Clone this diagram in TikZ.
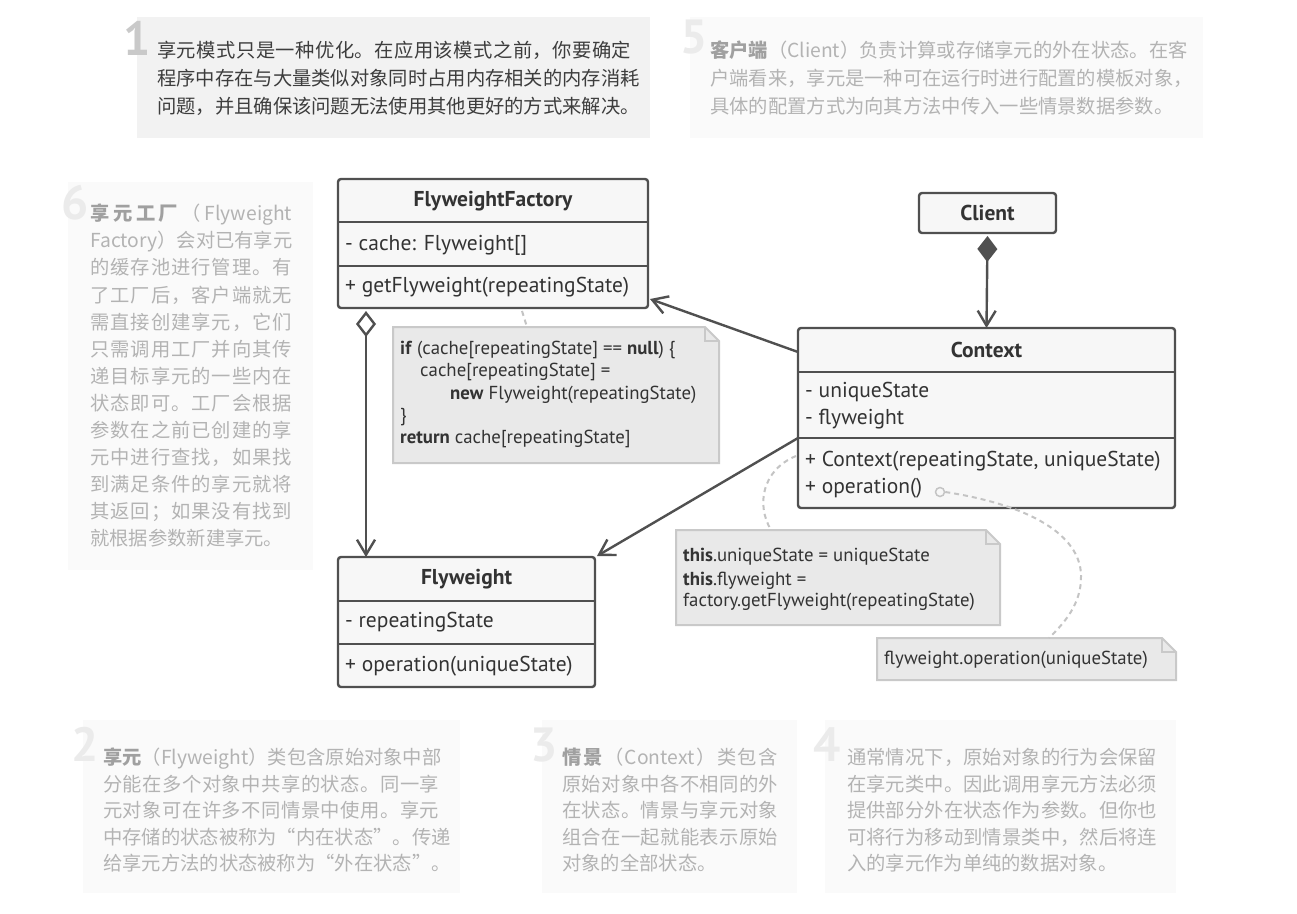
\documentclass[tikz,border=0pt]{standalone}
\usepackage{fontspec}
\setmainfont{PT Sans}
\newfontfamily\cjk{Noto Sans CJK SC}
\usetikzlibrary{arrows.meta,calc}
\definecolor{lc}{HTML}{505050}
\definecolor{boxfill}{HTML}{F7F7F7}
\definecolor{utext}{HTML}{333333}
\definecolor{notefill}{HTML}{E9E9E9}
\definecolor{notedraw}{HTML}{C9C9C9}
\definecolor{dgray}{HTML}{C4C4C4}
\definecolor{darkbg}{HTML}{F2F2F2}
\definecolor{lightbg}{HTML}{FAFAFA}
\definecolor{darktxt}{HTML}{3D3D3D}
\definecolor{lighttxt}{HTML}{B3B3B3}
\definecolor{lightbold}{HTML}{A0A0A0}
\definecolor{digdark}{HTML}{C9C9C9}
\definecolor{diglight}{HTML}{EBEBEB}
\makeatletter
\newcommand\spl[2]{\makebox[#1][s]{\@tempswafalse\@tfor\sp@tk:=#2\do{\if@tempswa\hfill\fi\@tempswatrue\sp@tk}}}
\makeatother
\newcommand\lb[1]{{\bfseries\color{lightbold}#1}}
\begin{document}
\begin{tikzpicture}[x=1pt,y=-1pt,
  umlbox/.style={draw=lc,fill=boxfill,line width=2.4pt,rounded corners=3pt,inner sep=0pt,outer sep=0pt,anchor=north west},
  sep/.style={draw=lc,line width=2.4pt},
  uhead/.style={font=\fontsize{21.5}{24}\selectfont\bfseries,text=utext,inner sep=0pt},
  uattr/.style={font=\fontsize{21.5}{24}\selectfont,text=utext,inner sep=0pt,anchor=west},
  assoc/.style={draw=lc,line width=2.4pt,-{Straight Barb[length=15pt,width=18pt]}},
  aggr/.style={draw=lc,line width=2.4pt,{Diamond[open,fill=white,length=26pt,width=20pt]}-{Straight Barb[length=15pt,width=18pt]}},
  comp/.style={draw=lc,line width=2.4pt,{Diamond[fill=lc,length=26pt,width=20pt]}-{Straight Barb[length=15pt,width=18pt]}},
  notearea/.style={inner sep=0pt,outer sep=0pt,anchor=north west},
  notebox/.style={draw=notedraw,fill=notefill,line width=2pt},
  ctext/.style={font=\fontsize{18.8}{21}\selectfont,text=utext,inner sep=0pt,anchor=west},
  dsh/.style={draw=dgray,line width=2pt,dash pattern=on 5pt off 4pt},
  ntd/.style={font=\cjk\fontsize{19.3}{22}\selectfont,text=darktxt,inner sep=0pt,anchor=base west},
  ntl/.style={font=\cjk\fontsize{19.3}{22}\selectfont,text=lighttxt,inner sep=0pt,anchor=base west},
  digit/.style={font=\fontsize{48}{48}\selectfont\bfseries,inner sep=0pt,anchor=base west},
  bgbox/.style={inner sep=0pt,outer sep=0pt,anchor=north west}
]
\useasboundingbox (0,0) rectangle (1297,913);
\fill[white] (0,0) rectangle (1297,913);

% ---------- background note boxes ----------
\node[bgbox,fill=darkbg,minimum width=513pt,minimum height=121pt] (b1) at (137,17) {};
\node[bgbox,fill=lightbg,minimum width=513pt,minimum height=121pt] (b5) at (690,17) {};
\node[bgbox,fill=lightbg,minimum width=245pt,minimum height=388pt] (b6) at (68,182) {};
\node[bgbox,fill=lightbg,minimum width=377pt,minimum height=173pt] (b2) at (83,720) {};
\node[bgbox,fill=lightbg,minimum width=255pt,minimum height=173pt] (b3) at (542,720) {};
\node[bgbox,fill=lightbg,minimum width=351pt,minimum height=173pt] (b4) at (825,720) {};

% ---------- digits ----------
\node[digit,text=digdark] (d1) at (123,55) {1};
\node[digit,text=diglight] (d5) at (680,53) {5};
\node[digit,text=diglight] (d6) at (61,219) {6};
\node[digit,text=diglight] (d2) at (71,761) {2};
\node[digit,text=diglight] (d3) at (530,761) {3};
\node[digit,text=diglight] (d4) at (813,761) {4};

% ---------- note 1 ----------
\node[ntd] (t1a) at (157,57.5) {\spl{474pt}{享元模式只是一种优化。在应用该模式之前，你要确定}};
\node[ntd] (t1b) at (157,85.5) {\spl{474pt}{程序中存在与大量类似对象同时占用内存相关的内存消耗}};
\node[ntd] (t1c) at (157,113.5) {问题，并且确保该问题无法使用其他更好的方式来解决。};

% ---------- note 5 ----------
\node[ntl] (t5a) at (710,57.5) {\spl{470pt}{{\lb{客}}{\lb{户}}{\lb{端}}（{Client}）负责计算或存储享元的外在状态。在客}};
\node[ntl] (t5b) at (710,85.5) {\spl{470pt}{户端看来，享元是一种可在运行时进行配置的模板对象，}};
\node[ntl] (t5c) at (710,113.5) {具体的配置方式为向其方法中传入一些情景数据参数。};

% ---------- note 6 ----------
\node[ntl] (t6a) at (90,220.7) {\spl{202pt}{{\lb{享}}{\lb{元}}{\lb{工}}{\lb{厂}}（{Flyweight}}};
\node[ntl] (t6b) at (90,247.8) {\spl{202pt}{{Factory}）会对已有享元}};
\node[ntl] (t6c) at (90,274.9) {\spl{202pt}{的缓存池进行管理。有}};
\node[ntl] (t6d) at (90,302.0) {\spl{202pt}{了工厂后，客户端就无}};
\node[ntl] (t6e) at (90,329.1) {\spl{202pt}{需直接创建享元，它们}};
\node[ntl] (t6f) at (90,356.2) {\spl{202pt}{只需调用工厂并向其传}};
\node[ntl] (t6g) at (90,383.3) {\spl{202pt}{递目标享元的一些内在}};
\node[ntl] (t6h) at (90,410.4) {\spl{202pt}{状态即可。工厂会根据}};
\node[ntl] (t6i) at (90,437.5) {\spl{202pt}{参数在之前已创建的享}};
\node[ntl] (t6j) at (90,464.6) {\spl{202pt}{元中进行查找，如果找}};
\node[ntl] (t6k) at (90,491.7) {\spl{202pt}{到满足条件的享元就将}};
\node[ntl] (t6l) at (90,518.8) {\spl{202pt}{其返回；如果没有找到}};
\node[ntl] (t6m) at (90,545.9) {就根据参数新建享元。};

% ---------- note 2 ----------
\node[ntl] (t2a) at (103,764.5) {\spl{336pt}{{\lb{享}}{\lb{元}}（{Flyweight}）类包含原始对象中部}};
\node[ntl] (t2b) at (103,791) {\spl{336pt}{分能在多个对象中共享的状态。同一享}};
\node[ntl] (t2c) at (103,817.5) {\spl{336pt}{元对象可在许多不同情景中使用。享元}};
\node[ntl] (t2d) at (103,844) {\spl{336pt}{中存储的状态被称为“内在状态”。传递}};
\node[ntl] (t2e) at (103,870.5) {给享元方法的状态被称为“外在状态”。};

% ---------- note 3 ----------
\node[ntl] (t3a) at (562,764.5) {\spl{216pt}{{\lb{情}}{\lb{景}}（{Context}）类包含}};
\node[ntl] (t3b) at (562,791) {\spl{216pt}{原始对象中各不相同的外}};
\node[ntl] (t3c) at (562,817.5) {\spl{216pt}{在状态。情景与享元对象}};
\node[ntl] (t3d) at (562,844) {\spl{216pt}{组合在一起就能表示原始}};
\node[ntl] (t3e) at (562,870.5) {对象的全部状态。};

% ---------- note 4 ----------
\node[ntl] (t4a) at (847,764.5) {\spl{310pt}{通常情况下，原始对象的行为会保留}};
\node[ntl] (t4b) at (847,791) {\spl{310pt}{在享元类中。因此调用享元方法必须}};
\node[ntl] (t4c) at (847,817.5) {\spl{310pt}{提供部分外在状态作为参数。但你也}};
\node[ntl] (t4d) at (847,844) {\spl{310pt}{可将行为移动到情景类中，然后将连}};
\node[ntl] (t4e) at (847,870.5) {入的享元作为单纯的数据对象。};

% ---------- code notes ----------
\node[notearea,minimum width=326pt,minimum height=136pt] (cn1) at (393,327) {};
\node[notearea,minimum width=324pt,minimum height=95pt] (cn2) at (676,530) {};
\node[notearea,minimum width=299pt,minimum height=42pt] (cn3) at (877,638) {};
\foreach \n in {cn1,cn2,cn3}{
  \draw[notebox] (\n.north west) -- ($(\n.north east)+(-14,0)$) -- ($(\n.north east)+(0,14)$) -- (\n.south east) -- (\n.south west) -- cycle;
  \draw[notebox,fill=none] ($(\n.north east)+(-14,0)$) |- ($(\n.north east)+(0,14)$);
}
\node[ctext] (c1a) at (400,350) {\textbf{if} (cache[repeatingState] == \textbf{null}) \{};
\node[ctext] (c1b) at (420,372) {cache[repeatingState] =};
\node[ctext] (c1c) at (450,395) {\textbf{new} Flyweight(repeatingState)};
\node[ctext] (c1d) at (400,417) {\}};
\node[ctext] (c1e) at (400,439) {\textbf{return} cache[repeatingState]};
\node[ctext] (c2a) at (683,557) {\textbf{this}.uniqueState = uniqueState};
\node[ctext] (c2b) at (683,581) {\textbf{this}.flyweight =};
\node[ctext] (c2c) at (683,602) {factory.getFlyweight(repeatingState)};
\node[ctext] (c3a) at (884,660) {flyweight.operation(uniqueState)};

% ---------- UML classes ----------
% FlyweightFactory
\node[umlbox,minimum width=310pt,minimum height=129pt] (ff) at (338,179) {};
\draw[sep] ($(ff.north west)+(0,43)$) -- ($(ff.north east)+(0,43)$);
\draw[sep] ($(ff.north west)+(0,87)$) -- ($(ff.north east)+(0,87)$);
\node[uhead] (ffh) at ($(ff.north)+(0,22)$) {FlyweightFactory};
\node[uattr] (ffa) at ($(ff.north west)+(7,66)$) {- cache: Flyweight[]};
\node[uattr] (ffm) at ($(ff.north west)+(7,108)$) {+ getFlyweight(repeatingState)};

% Client
\node[umlbox,minimum width=137pt,minimum height=40pt] (cl) at (919,193) {};
\node[uhead] (clh) at (cl.center) {Client};

% Context
\node[umlbox,minimum width=377pt,minimum height=180pt] (ctx) at (798,328) {};
\draw[sep] ($(ctx.north west)+(0,44)$) -- ($(ctx.north east)+(0,44)$);
\draw[sep] ($(ctx.north west)+(0,110)$) -- ($(ctx.north east)+(0,110)$);
\node[uhead] (ctxh) at ($(ctx.north)+(0,22)$) {Context};
\node[uattr] (ctxa) at ($(ctx.north west)+(7,64)$) {- uniqueState};
\node[uattr] (ctxb) at ($(ctx.north west)+(7,91)$) {- flyweight};
\node[uattr] (ctxm) at ($(ctx.north west)+(7,133)$) {+ Context(repeatingState, uniqueState)};
\node[uattr] (ctxo) at ($(ctx.north west)+(7,160)$) {+ operation()};

% Flyweight
\node[umlbox,minimum width=257pt,minimum height=130pt] (fw) at (338,557) {};
\draw[sep] ($(fw.north west)+(0,44)$) -- ($(fw.north east)+(0,44)$);
\draw[sep] ($(fw.north west)+(0,87)$) -- ($(fw.north east)+(0,87)$);
\node[uhead] (fwh) at ($(fw.north)+(0,22)$) {Flyweight};
\node[uattr] (fwa) at ($(fw.north west)+(7,65)$) {- repeatingState};
\node[uattr] (fwm) at ($(fw.north west)+(7,109)$) {+ operation(uniqueState)};

% ---------- connectors ----------
\draw[comp] ($(cl.south)+(0,3)$) -- (ctx.north);
\draw[assoc] ($(ctx.north west)+(0,24)$) -- ($(ff.south east)+(2,-9)$);
\draw[assoc] ($(ctx.north west)+(0,110)$) -- ($(fw.north east)+(2,-1)$);
\draw[aggr] ($(ff.south west)+(28,3)$) -- ($(fw.north west)+(28,0)$);

% dashed note links
\draw[dsh] ($(ff.south west)+(184,3)$) -- ($(cn1.north west)+(134,0)$);
\draw[dsh] ($(ctx.north west)+(-2,128)$) .. controls (762,470) and (756,505) .. ($(cn2.north west)+(95,0)$);
\node[circle,draw=dgray,line width=1.5pt,minimum size=9pt,inner sep=0pt] (oc) at (940,492) {};
\draw[dsh] (oc.east) .. controls (1030,505) and (1080,535) .. (1081,575) .. controls (1082,605) and (1062,625) .. ($(cn3.north west)+(172,0)$);
\end{tikzpicture}
\end{document}
